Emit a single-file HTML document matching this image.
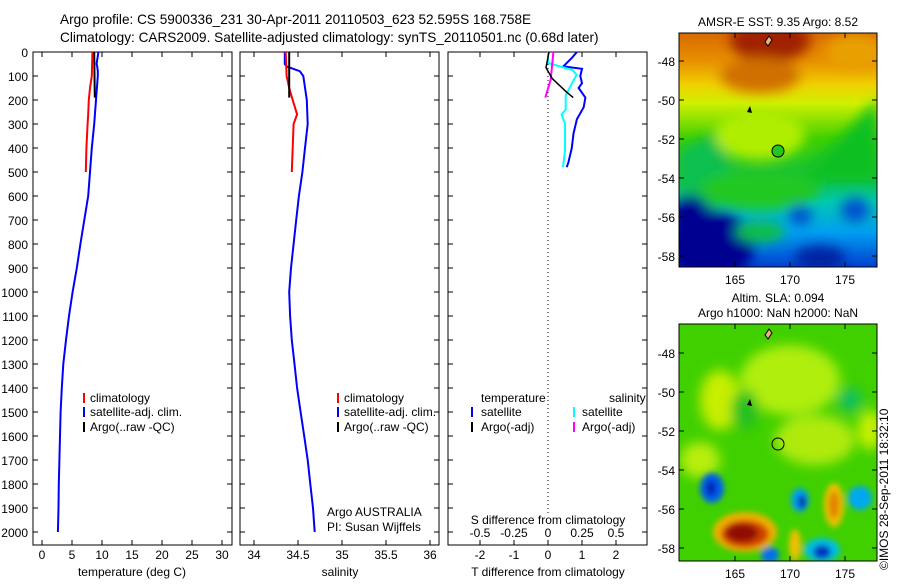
<!DOCTYPE html>
<html><head><meta charset="utf-8"><style>
body{margin:0;background:#fff;}
svg text{font-family:"Liberation Sans",sans-serif;fill:#000;}
</style></head><body>
<svg id="c" width="900" height="580" xmlns="http://www.w3.org/2000/svg">
<defs>
<filter id="bl" x="-20%" y="-20%" width="140%" height="140%"><feGaussianBlur stdDeviation="6"/></filter>
<filter id="bl2" x="-20%" y="-20%" width="140%" height="140%"><feGaussianBlur stdDeviation="3"/></filter>
<clipPath id="m1"><rect x="679" y="33" width="198" height="234"/></clipPath>
<clipPath id="m2"><rect x="679" y="324" width="198" height="237"/></clipPath>
<linearGradient id="sst" x1="0" y1="0" x2="0" y2="1">
<stop offset="0" stop-color="#d86a00"/><stop offset="0.12" stop-color="#e89000"/><stop offset="0.22" stop-color="#f0d000"/><stop offset="0.3" stop-color="#d0f000"/><stop offset="0.45" stop-color="#40d000"/><stop offset="0.62" stop-color="#10c040"/><stop offset="0.72" stop-color="#00c8b0"/><stop offset="0.85" stop-color="#00a0f0"/><stop offset="1" stop-color="#0040d0"/>
</linearGradient>
</defs>
<text x="60" y="24" font-size="13.6">Argo profile: CS 5900336_231 30-Apr-2011 20110503_623 52.595S 168.758E</text>
<text x="60" y="42" font-size="13.6">Climatology: CARS2009. Satellite-adjusted climatology: synTS_20110501.nc (0.68d later)</text>
<g id="plots"></g>
<g clip-path="url(#m1)">
<rect x="679" y="33" width="198" height="234" fill="url(#sst)"/>
<g filter="url(#bl)">
<ellipse cx="770" cy="40" rx="40" ry="22" fill="#a02000"/>
<ellipse cx="760" cy="75" rx="40" ry="18" fill="#d07000"/>
<ellipse cx="855" cy="52" rx="30" ry="18" fill="#e8a000"/>
<polygon points="800,180 877,100 877,180" fill="#10c020"/>
<polygon points="679,150 720,130 740,200 679,220" fill="#10c050"/>
<ellipse cx="760" cy="135" rx="45" ry="25" fill="#b0ee00"/>
<ellipse cx="760" cy="190" rx="60" ry="20" fill="#20c820"/>
<ellipse cx="710" cy="245" rx="45" ry="35" fill="#000090"/>
<ellipse cx="690" cy="215" rx="20" ry="20" fill="#000090"/>
<ellipse cx="800" cy="215" rx="12" ry="10" fill="#0050d0"/>
<ellipse cx="855" cy="210" rx="14" ry="12" fill="#0050d0"/>
<ellipse cx="820" cy="258" rx="25" ry="12" fill="#0020a0"/>
<ellipse cx="760" cy="232" rx="25" ry="10" fill="#10c040"/>
</g>
<circle cx="778" cy="151" r="6" fill="#20c820" stroke="#000"/>
<path d="M765 42 l4 -6 l3 4 l-4 6z" fill="#f0b080" stroke="#000"/>
<path d="M747 112 l3 -6 l2 7z" fill="#000"/>
</g>
<rect x="679" y="33" width="198" height="234" fill="none" stroke="#000"/>
<g clip-path="url(#m2)">
<rect x="679" y="324" width="198" height="237" fill="#40d000"/>
<g filter="url(#bl)">
<ellipse cx="790" cy="380" rx="50" ry="35" fill="#b0ee10"/>
<ellipse cx="720" cy="400" rx="20" ry="30" fill="#c8ee00"/>
<ellipse cx="815" cy="440" rx="40" ry="25" fill="#b0ea10"/>
<ellipse cx="700" cy="460" rx="20" ry="18" fill="#b8ee10"/>
<ellipse cx="870" cy="430" rx="12" ry="20" fill="#c8f000"/>
<ellipse cx="850" cy="400" rx="12" ry="12" fill="#10c060"/>
<ellipse cx="745" cy="410" rx="14" ry="20" fill="#20c020"/>
</g>
<g filter="url(#bl2)">
<ellipse cx="712" cy="488" rx="12" ry="15" fill="#0060f0"/>
<ellipse cx="711" cy="488" rx="5" ry="8" fill="#0020b0"/>
<ellipse cx="800" cy="500" rx="9" ry="12" fill="#00a0f0"/>
<ellipse cx="802" cy="502" rx="4" ry="7" fill="#0020b0"/>
<ellipse cx="860" cy="498" rx="12" ry="12" fill="#00a8f0"/>
<ellipse cx="822" cy="550" rx="18" ry="12" fill="#00c0e0"/>
<ellipse cx="822" cy="552" rx="9" ry="7" fill="#0030c0"/>
<ellipse cx="770" cy="555" rx="9" ry="8" fill="#0070f0"/>
<ellipse cx="834" cy="505" rx="10" ry="22" fill="#f0c000"/>
<ellipse cx="834" cy="505" rx="5" ry="14" fill="#e08000"/>
<ellipse cx="795" cy="545" rx="6" ry="16" fill="#f0c000"/>
<ellipse cx="745" cy="532" rx="32" ry="20" fill="#f0b000"/>
<ellipse cx="745" cy="534" rx="24" ry="14" fill="#d04000"/>
<ellipse cx="742" cy="533" rx="16" ry="9" fill="#901000"/>
</g>
<circle cx="778" cy="444" r="6" fill="none" stroke="#000"/>
<path d="M765 335 l4 -6 l3 4 l-4 6z" fill="#f0b080" stroke="#000"/>
<path d="M747 405 l3 -6 l2 7z" fill="#000"/>
</g>
<rect x="679" y="324" width="198" height="237" fill="none" stroke="#000"/>
<text x="778" y="26" font-size="12" text-anchor="middle">AMSR-E SST: 9.35 Argo: 8.52</text>
<text x="778" y="302" font-size="12" text-anchor="middle">Altim. SLA: 0.094</text>
<text x="778" y="317" font-size="12" text-anchor="middle">Argo h1000: NaN h2000: NaN</text>
<text x="0" y="0" font-size="12" transform="translate(888,570) rotate(-90)">©IMOS 28-Sep-2011 18:32:10</text>
<g id="maps"></g>
</svg>
<script>
const depthTicks=[0,100,200,300,400,500,600,700,800,900,1000,1100,1200,1300,1400,1500,1600,1700,1800,1900,2000];
const tempTicks=[0,5,10,15,20,25,30];
const salTicks=[34,34.5,35,35.5,36];
const salTickLabels=["34","34.5","35","35.5","36"];
const tdTicks=[-2,-1,0,1,2];
const sdTicks=[-0.5,-0.25,0,0.25,0.5];
const sdTickLabels=["-0.5","-0.25","0","0.25","0.5"];
const satDepth=[0,50,60,80,100,200,300,400,500,600,700,800,900,1000,1100,1200,1300,1400,1500,1600,1700,1800,1900,2000];
const satTemp=[9.4,9.1,9.2,9.3,9.3,9.0,8.7,8.3,8.0,7.7,7.05,6.4,5.8,5.1,4.5,4.0,3.55,3.3,3.1,3.0,2.9,2.8,2.75,2.65];
const satSal=[34.35,34.35,34.37,34.52,34.56,34.6,34.61,34.58,34.55,34.51,34.48,34.45,34.42,34.40,34.41,34.43,34.46,34.49,34.53,34.57,34.61,34.64,34.67,34.69];
const climDepth=[0,100,150,200,260,300,400,500];
const climTemp=[8.4,8.3,8.0,7.8,7.7,7.6,7.4,7.3];
const climSal=[34.36,34.37,34.4,34.44,34.49,34.45,34.44,34.43];
const argoDepth=[0,190];
const argoTemp=[8.7,8.8];
const argoSal=[34.4,34.4];
const tdSatDepth=[0,25,60,70,100,130,150,190,230,280,340,400,460,480];
const tdSat=[0.85,0.7,0.45,1.0,0.95,1.0,0.9,1.1,1.05,0.85,0.75,0.7,0.6,0.55];
const sdSatDepth=[0,46,75,95,180,240,260,300,410,480];
const sdSat=[0,0,0.18,0.21,0.13,0.13,0.1,0.125,0.125,0.11];
const tdArgoDepth=[0,65,110,165,190];
const tdArgo=[0.03,-0.06,0.12,0.53,0.74];
const sdArgoDepth=[0,115,190];
const sdArgo=[0.04,0.02,-0.02];
const latTicks=[-48,-50,-52,-54,-56,-58];
const lonTicks=[165,170,175];

const NS="http://www.w3.org/2000/svg";
const g=document.getElementById('plots');
function el(t,a,p){const e=document.createElementNS(NS,t);for(const k in a)e.setAttribute(k,a[k]);(p||g).appendChild(e);return e;}
const yTop=52,yBot=545;
const yS=d=>yTop+d*0.24;
function panel(x0,name){
  const r=el('rect',{x:x0,y:yTop,width:199,height:yBot-yTop,fill:'none',stroke:'#000'});
  
  
  depthTicks.forEach(d=>{
    const y=yS(d);
    el('line',{x1:x0,x2:x0+5,y1:y,y2:y,stroke:'#000'});
    el('line',{x1:x0+199-5,x2:x0+199,y1:y,y2:y,stroke:'#000'});
  });
}
function xticks(vals,labels,sx,yl){
  vals.forEach((v,i)=>{
    const x=sx(v);
    el('line',{x1:x,x2:x,y1:yBot,y2:yBot-5,stroke:'#000'});
    el('line',{x1:x,x2:x,y1:yTop,y2:yTop+5,stroke:'#000'});
    const t=el('text',{x:x,y:yl,'font-size':12,'text-anchor':'middle'});t.textContent=labels[i];
    
    
  });
}
function line(xs,ds,sx,col,name,w){
  const pts=xs.map((v,i)=>sx(v).toFixed(1)+','+yS(ds[i]).toFixed(1)).join(' ');
  const p=el('polyline',{points:pts,fill:'none',stroke:col,'stroke-width':w||2});
  
  
}
function txt(x,y,s,name,anchor){const t=el('text',{x:x,y:y,'font-size':12,'text-anchor':anchor||'start'});t.textContent=s;
  
  return t;}
function legBar(x,y,col){el('line',{x1:x,x2:x,y1:y-9,y2:y+1,stroke:col,'stroke-width':2});}

const sxT=v=>42+v*6;
panel(33,'temperature-panel');
depthTicks.forEach(d=>txt(28,yS(d)+5,String(d),'y-tick-label','end'));
xticks(tempTicks,tempTicks.map(String),sxT,559);
txt(132,576,'temperature (deg C)','x-axis-title-temperature','middle');
line(satTemp,satDepth,sxT,'#0000ff','temp-satellite-line');
line(climTemp,climDepth,sxT,'#ff0000','temp-climatology-line');
line(argoTemp,argoDepth,sxT,'#000','temp-argo-line');
legBar(84,402,'#ff0000');txt(90,402,'climatology','legend-climatology');
legBar(84,416,'#0000ff');txt(90,416,'satellite-adj. clim.','legend-satellite');
legBar(84,431,'#000');txt(90,431,'Argo(..raw -QC)','legend-argo');

const sxS=v=>254+(v-34)*88;
panel(240,'salinity-panel');
xticks(salTicks,salTickLabels,sxS,559);
txt(340,576,'salinity','x-axis-title-salinity','middle');
line(satSal,satDepth,sxS,'#0000ff','sal-satellite-line');
line(climSal,climDepth,sxS,'#ff0000','sal-climatology-line');
line(argoSal,argoDepth,sxS,'#000','sal-argo-line');
legBar(338,402,'#ff0000');txt(344,402,'climatology','legend-climatology-2');
legBar(338,416,'#0000ff');txt(344,416,'satellite-adj. clim.','legend-satellite-2');
legBar(338,431,'#000');txt(344,431,'Argo(..raw -QC)','legend-argo-2');
txt(327,516,'Argo AUSTRALIA','agency-label');
txt(327,531,'PI: Susan Wijffels','pi-label');

const sxTD=v=>548+v*34;
const sxSD=v=>548+v*136;
panel(448,'difference-panel');
xticks(tdTicks,tdTicks.map(String),sxTD,559);
sdTicks.forEach((v,i)=>txt(sxSD(v),537,sdTickLabels[i],'s-diff-tick-label','middle'));
txt(548,524,'S difference from climatology','s-diff-axis-title','middle');
txt(548,576,'T difference from climatology','t-diff-axis-title','middle');
el('line',{x1:548,x2:548,y1:yTop,y2:513,stroke:'#000','stroke-dasharray':'1,3'});
line(tdSat,tdSatDepth,sxTD,'#0000ff','tdiff-satellite-line');
line(sdSat,sdSatDepth,sxSD,'#00ffff','sdiff-satellite-line');
line(sdArgo,sdArgoDepth,sxSD,'#ff00ff','sdiff-argo-line');
line(tdArgo,tdArgoDepth,sxTD,'#000','tdiff-argo-line',1.5);
txt(481,402,'temperature','legend-temperature-header');
txt(609,402,'salinity','legend-salinity-header');
legBar(472,416,'#0000ff');txt(481,416,'satellite','legend-t-satellite');
legBar(472,431,'#000');txt(481,431,'Argo(-adj)','legend-t-argo');
legBar(574,416,'#00ffff');txt(582,416,'satellite','legend-s-satellite');
legBar(574,431,'#ff00ff');txt(582,431,'Argo(-adj)','legend-s-argo');

const mg=document.getElementById('maps');
function mapAxes(y0,y1,lat48){
  const syL=l=>lat48+(-48-l)*19.5;
  const sxL=l=>735+(l-165)*11;
  latTicks.forEach(l=>{
    const y=syL(l);
    el('line',{x1:679,x2:684,y1:y,y2:y,stroke:'#000'},mg);
    el('line',{x1:872,x2:877,y1:y,y2:y,stroke:'#000'},mg);
    const t=el('text',{x:675,y:y+5,'font-size':12,'text-anchor':'end'},mg);t.textContent=String(l);
    
    
  });
  lonTicks.forEach(l=>{
    const x=sxL(l);
    el('line',{x1:x,x2:x,y1:y1,y2:y1-5,stroke:'#000'},mg);
    el('line',{x1:x,x2:x,y1:y0,y2:y0+5,stroke:'#000'},mg);
    const t=el('text',{x:x,y:y1+17,'font-size':12,'text-anchor':'middle'},mg);t.textContent=String(l);
    
    
  });
}
mapAxes(33,267,61);
mapAxes(324,561,353);
</script>
</body></html>
